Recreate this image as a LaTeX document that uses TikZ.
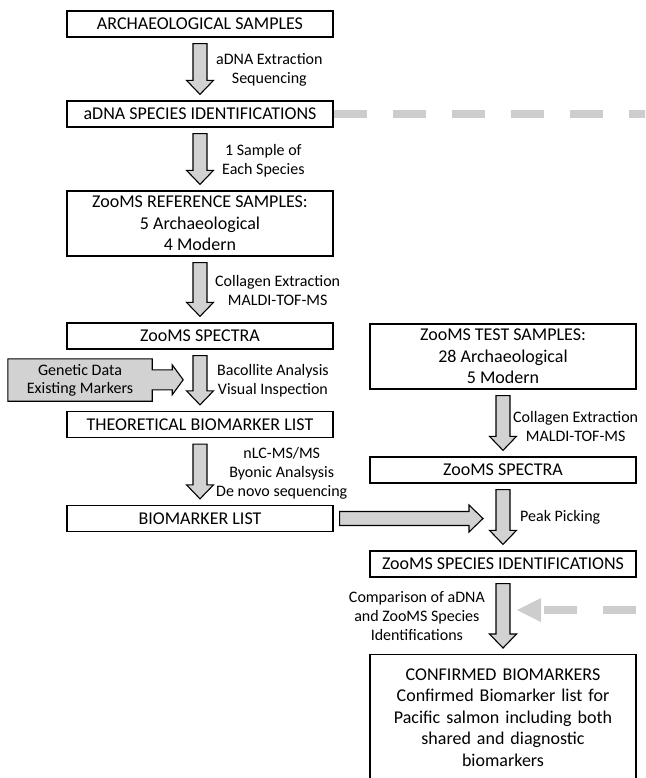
\documentclass[tikz,border=0pt]{standalone}
\usepackage{fontspec}
\setmainfont{Carlito}
\usepackage{tikz}
\usetikzlibrary{calc}
\usetikzlibrary{arrows.meta}
\usetikzlibrary{backgrounds}
\definecolor{arrow_gray}{RGB}{210,210,210}
\definecolor{dash_gray}{RGB}{205,205,205}
\tikzset{
  step_box/.style = {draw=black, line width=1.3pt, fill=white, align=center,
    inner sep=0pt, minimum width=266pt, minimum height=26pt,
    font=\fontsize{18}{21.5}\selectfont},% boite d'etape
  tall_box/.style = {step_box, minimum height=65pt},% boite a trois lignes
  step_label/.style = {align=center, inner sep=0pt,
    font=\fontsize{16}{19}\selectfont},% texte a cote des fleches
  gen_box/.style = {align=center, inner sep=0pt, minimum width=144pt,
    minimum height=42pt, font=\fontsize{16}{18}\selectfont},% boite grise
  block_arrow/.style = {draw=black, fill=arrow_gray, line width=1.1pt,
    to path={
      ($(\tikztostart)!6pt!(\tikztotarget)$) coordinate (ba)
      ($(\tikztotarget)!6pt!(\tikztostart)$) coordinate (bt)
      ($(bt)!14pt!(ba)$) coordinate (bh)
      ($(ba)!7pt!90:(bt)$) -- ($(bh)!7pt!-90:(ba)$) -- ($(bh)!13.5pt!-90:(ba)$)
      -- (bt) -- ($(bh)!13.5pt!90:(ba)$) -- ($(bh)!7pt!90:(ba)$)
      -- ($(ba)!7pt!-90:(bt)$) -- cycle}},% grosse fleche
  dash_link/.style = {draw=dash_gray, line width=8pt,
    dash pattern=on 33pt off 26pt,
    -{Triangle[length=24pt, width=24pt, line width=0pt]}}% lien pointille
}

\begin{document}
\begin{tikzpicture}[x=1pt, y=-1pt]
  \useasboundingbox (0,0) rectangle (645,778);
  \clip (0,0) rectangle (645,778);

  % colonne de gauche
  \node [step_box] (arch) at (200,24) {ARCHAEOLOGICAL SAMPLES};
  \node [step_box] (adna_id) at (200,114) {aDNA SPECIES IDENTIFICATIONS};
  \node [tall_box] (ref_samples) at (200,223.5)
    {ZooMS REFERENCE SAMPLES:\\5 Archaeological\\4 Modern};
  \node [step_box] (spectra_ref) at (200,336) {ZooMS SPECTRA};
  \node [step_box] (theo_list) at (200,424.5) {THEORETICAL BIOMARKER LIST};
  \node [step_box] (bio_list) at (200,518.5) {BIOMARKER LIST};
  \node [gen_box] (genetic) at (80,380) {Genetic Data\\Existing Markers};

  % colonne de droite
  \node [tall_box] (test_samples) at (503,356.5)
    {ZooMS TEST SAMPLES:\\28 Archaeological\\5 Modern};
  \node [step_box] (spectra_test) at (503,470) {ZooMS SPECTRA};
  \node [step_box] (zooms_id) at (503,564) {ZooMS SPECIES IDENTIFICATIONS};
  \node [step_box, anchor=north, minimum height=0pt, inner ysep=14pt,
    text width=250pt, text depth=110pt]
    (confirmed) at (503,654)
    {CONFIRMED BIOMARKERS\\Confirmed Biomarker list for\\Pacific salmon including both\\shared and diagnostic\\biomarkers};

  % textes des fleches
  \node [step_label, anchor=west] (lab_extract) at (216,70)
    {aDNA Extraction\\Sequencing};
  \node [step_label, anchor=west] (lab_sample) at (222,161)
    {1 Sample of\\Each Species};
  \node [step_label, anchor=west] (lab_collagen) at (215,290)
    {Collagen Extraction\\MALDI-TOF-MS};
  \node [step_label, anchor=west] (lab_bacollite) at (217,381)
    {Bacollite Analysis\\Visual Inspection};
  \node [step_label, anchor=west] (lab_nlc) at (216,473)
    {nLC-MS/MS\\Byonic Analsysis\\De novo sequencing};
  \node [step_label, anchor=west] (lab_collagen_test) at (513,426)
    {Collagen Extraction\\MALDI-TOF-MS};
  \node [step_label, anchor=west] (lab_peak) at (520,517) {Peak Picking};
  \node [step_label, anchor=east] (lab_compare) at (485,616)
    {Comparison of aDNA\\and ZooMS Species\\Identifications};

  \coordinate (pick) at (489,518.5);
  \coordinate (dash_bottom) at (650,610);
  \coordinate (dash_top) at (adna_id.east -| dash_bottom);
  \coordinate (dash_in) at (517,610);

  % boite grise avec sa fleche
  \begin{scope}[on background layer]
    \draw [line width=1.1pt, fill=arrow_gray] (genetic.north west)
      -- (genetic.north east) -- ++(0,11) -- ++(20,0) -- ++(0,-5)
      -- ++(11,15) -- ++(-11,15) -- ++(0,-5) -- ++(-20,0)
      -- (genetic.south east) -- (genetic.south west) -- cycle;
  \end{scope}

  % fleches
  \draw [block_arrow] (arch.south) to (adna_id.north);
  \draw [block_arrow] (adna_id.south) to (ref_samples.north);
  \draw [block_arrow] (ref_samples.south) to (spectra_ref.north);
  \draw [block_arrow] (spectra_ref.south) to (theo_list.north);
  \draw [block_arrow] (theo_list.south) to (bio_list.north);
  \draw [block_arrow] (test_samples.south) to (spectra_test.north);
  \draw [block_arrow] (spectra_test.south) to (zooms_id.north);
  \draw [block_arrow] (zooms_id.south) to (confirmed.north);
  \draw [block_arrow] (bio_list.east) to (pick);
  \draw [dash_link] (adna_id.east) -- (dash_top) -- (dash_bottom) -- (dash_in);
\end{tikzpicture}
\end{document}
